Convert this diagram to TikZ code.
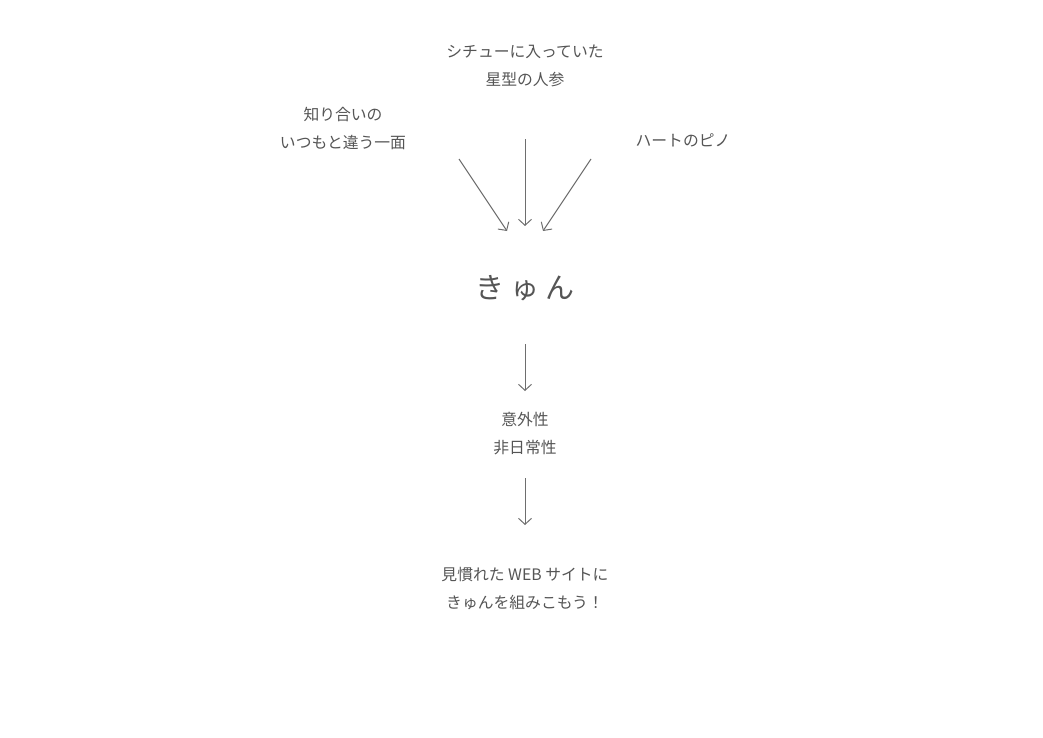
\documentclass[tikz,border=0pt]{standalone}
\usepackage{fontspec}
\setmainfont{Noto Sans CJK JP}
\usetikzlibrary{arrows.meta}
\definecolor{inkgray}{RGB}{85,85,85}
\definecolor{arrowgray}{RGB}{110,110,110}
\tikzset{every picture/.style={line width=1pt}}
\tikzset{
  label/.style={inner sep=0pt, align=center, text=inkgray, font=\fontsize{15.8}{28}\selectfont},
  bigword/.style={inner sep=0pt, text=inkgray, font=\fontsize{29}{29}\selectfont},
  flow/.style={draw=arrowgray, -{Straight Barb[length=6pt,width=13pt,line width=1pt]}}
}

\begin{document}
\begin{tikzpicture}[x=1pt,y=-1pt]
\useasboundingbox (0,0) rectangle (1043,737);

% Text Node
\node[label] (carrot) at (525,66) {シチューに入っていた\\星型の人参};
% Text Node
\node[label] (friend) at (343,128) {知り合いの\\いつもと違う一面};
% Text Node
\node[label] (pino) at (683,140) {ハートのピノ};
% Text Node
\node[bigword] (kyun) at (525,288) {き\hspace{6pt}ゅ\hspace{6pt}ん};
% Text Node
\node[label] (surprise) at (525,434) {意外性\\非日常性};
% Text Node
\node[label] (goal) at (525,589) {見慣れた WEB サイトに\\きゅんを組みこもう！};

%Straight Lines
\coordinate (friendout) at (459,159);
\coordinate (friendin) at (507,231);
\coordinate (pinoout) at (591,159);
\coordinate (pinoin) at (543,231);
\draw[flow] (friendout) -- (friendin);
\draw[flow] (pinoout) -- (pinoin);
\draw[flow, shorten <=73pt, shorten >=62pt] (carrot.center) -- (kyun.center);
\draw[flow, shorten <=56pt, shorten >=43pt] (kyun.center) -- (surprise.center);
\draw[flow, shorten <=44pt, shorten >=64pt] (surprise.center) -- (goal.center);

\end{tikzpicture}
\end{document}
